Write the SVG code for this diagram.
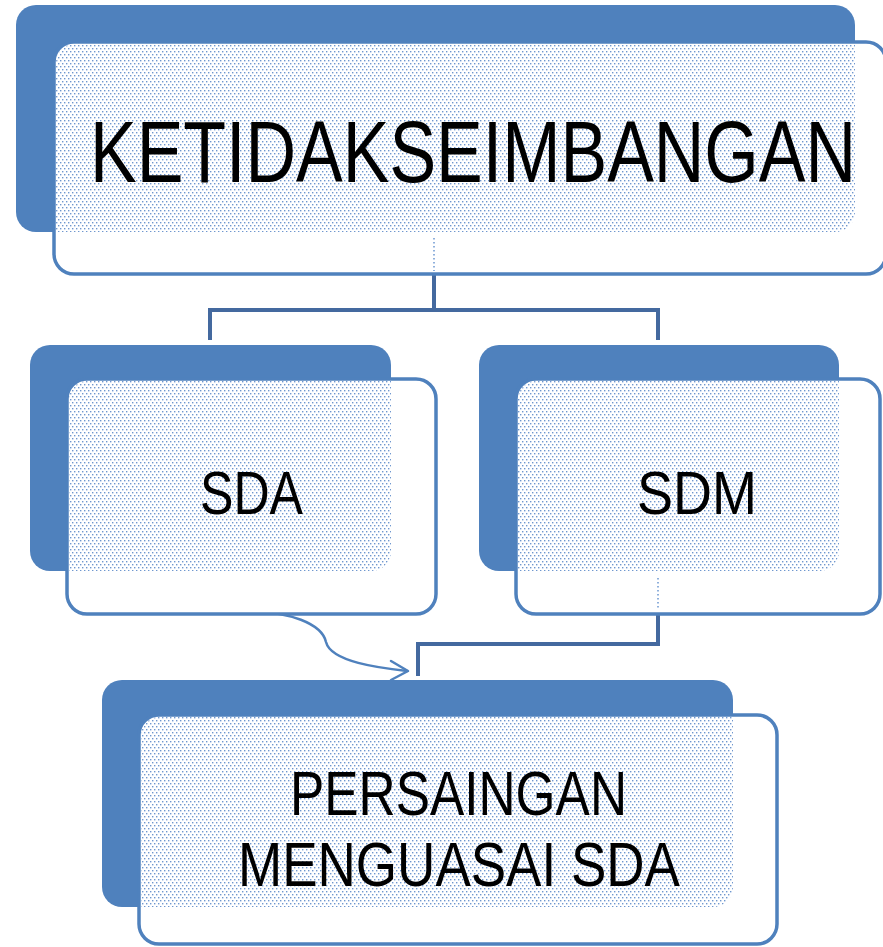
<svg xmlns="http://www.w3.org/2000/svg" width="883" height="947" viewBox="0 0 883 947">
<style>
.back{fill:#4F81BD}
.front{fill:#ffffff;stroke:#4F81BD;stroke-width:3.5}
.dots{fill:url(#dotpat)}
.lbl{font-family:"Liberation Sans","DejaVu Sans",sans-serif;fill:#000000}
.conn{fill:none;stroke:#44699f;stroke-width:4}
.curve{fill:none;stroke:#4F81BD;stroke-width:2.5;stroke-linecap:round;stroke-linejoin:round}
.faint{fill:none;stroke:#8fb0dc;stroke-width:2;stroke-dasharray:1.5 2.5}
</style>
<defs>
<pattern id="dotpat" width="4" height="6" patternUnits="userSpaceOnUse">
<rect x="0" y="0" width="1.4" height="1.4" fill="#6f97cf"/>
<rect x="2" y="3" width="1.4" height="1.4" fill="#6f97cf"/>
</pattern>
<clipPath id="c1"><rect x="16" y="5" width="839" height="227" rx="20"/></clipPath>
<clipPath id="c2"><rect x="30" y="345" width="361" height="226" rx="20"/></clipPath>
<clipPath id="c3"><rect x="479" y="345" width="360" height="226" rx="20"/></clipPath>
<clipPath id="c4"><rect x="102" y="680" width="631" height="227" rx="20"/></clipPath>
</defs>

<g id="connectors">
<path class="conn" d="M434,274 V310 M210,340 V310 H658 V340"/>
<path class="conn" d="M658,615 V644 H418 V676"/>
<path class="curve" d="M245,611 C290,611 322,624 326,642 C331,662 380,668 407,671"/>
<path class="curve" d="M391,661 L408,671 L391,680"/>
</g>

<g id="node-ketidakseimbangan">
<rect class="back" x="16" y="5" width="839" height="227" rx="20"/>
<rect class="front" x="54" y="42" width="832" height="232" rx="20"/>
<rect class="dots" x="56" y="44" width="828" height="228" rx="18" clip-path="url(#c1)"/>
<line class="faint" x1="434" y1="238" x2="434" y2="271"/>
<text class="lbl" x="90" y="182" font-size="87" textLength="766" lengthAdjust="spacingAndGlyphs">KETIDAKSEIMBANGAN</text>
</g>

<g id="node-sda">
<rect class="back" x="30" y="345" width="361" height="226" rx="20"/>
<rect class="front" x="67" y="379" width="369" height="235" rx="20"/>
<rect class="dots" x="69" y="381" width="365" height="231" rx="18" clip-path="url(#c2)"/>
<text class="lbl" x="200" y="514" font-size="61" textLength="103" lengthAdjust="spacingAndGlyphs">SDA</text>
</g>

<g id="node-sdm">
<rect class="back" x="479" y="345" width="360" height="226" rx="20"/>
<rect class="front" x="516" y="379" width="364" height="235" rx="20"/>
<rect class="dots" x="518" y="381" width="360" height="231" rx="18" clip-path="url(#c3)"/>
<line class="faint" x1="658" y1="578" x2="658" y2="610"/>
<text class="lbl" x="637" y="514" font-size="61" textLength="120" lengthAdjust="spacingAndGlyphs">SDM</text>
</g>

<g id="node-persaingan">
<rect class="back" x="102" y="680" width="631" height="227" rx="20"/>
<rect class="front" x="139" y="715" width="638" height="229" rx="20"/>
<rect class="dots" x="141" y="717" width="634" height="225" rx="18" clip-path="url(#c4)"/>
<text class="lbl" x="290" y="815" font-size="63" textLength="337" lengthAdjust="spacingAndGlyphs">PERSAINGAN</text>
<text class="lbl" x="238" y="886" font-size="63" textLength="442" lengthAdjust="spacingAndGlyphs">MENGUASAI SDA</text>
</g>
</svg>
